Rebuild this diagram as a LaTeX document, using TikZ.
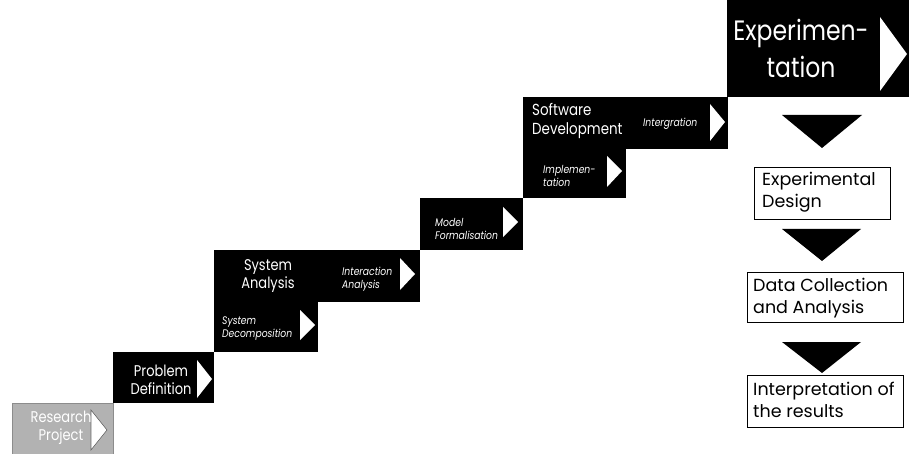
\documentclass[tikz,border=0pt]{standalone}
\usepackage{fontspec}
\setmainfont{Poppins}
\newfontfamily\condfont{Poppins}[FakeStretch=0.84]
\begin{document}
\begin{tikzpicture}[x=1pt,y=-1pt,
  blk/.style={fill=black,draw=none,inner sep=0pt,outer sep=0pt,anchor=north west},
  gry/.style={fill=black!30,draw=black!45,line width=0.6pt,inner sep=0pt,outer sep=0pt,anchor=north west},
  wbox/.style={draw=black,line width=0.6pt,fill=white,inner sep=0pt,outer sep=0pt,anchor=north west},
  lbl/.style={text=white,align=center,inner sep=0pt,font=\condfont\fontsize{15.5}{17.5}\selectfont},
  ilbl/.style={text=white,align=left,inner sep=0pt,anchor=west,font=\condfont\fontsize{11}{13}\selectfont\itshape},
  rlbl/.style={text=black,align=left,inner sep=0pt,anchor=west,font=\fontsize{17.5}{22.5}\selectfont},
  warr/.style={fill=white},
  garr/.style={fill=white,draw=black!60,line width=0.6pt},
  barr/.style={fill=black},
]
\useasboundingbox (0,0) rectangle (909,454);

% staircase blocks
\node[gry,minimum width=101pt,minimum height=51pt] (rp) at (12,403) {};
\node[blk,minimum width=101pt,minimum height=51pt] (pd) at (113,352) {};
\node[blk,minimum width=104pt,minimum height=102pt] (sa) at (214,250) {};
\node[blk,minimum width=102pt,minimum height=52pt] (ia) at (318,250) {};
\node[blk,minimum width=103pt,minimum height=52pt] (mf) at (420,198) {};
\node[blk,minimum width=103pt,minimum height=101pt] (sd) at (523,97) {};
\node[blk,minimum width=102pt,minimum height=52pt] (ig) at (626,97) {};
\node[blk,minimum width=182pt,minimum height=97pt] (ex) at (727,0) {};

% white arrows
\draw[garr] (91,410) -- (107,430) -- (91,450) -- cycle;
\fill[warr] (197,360) -- (212,379) -- (197,398) -- cycle;
\fill[warr] (300,310) -- (315,325) -- (300,340) -- cycle;
\fill[warr] (400,258) -- (415,274) -- (400,290) -- cycle;
\fill[warr] (503,207) -- (518,222) -- (503,237) -- cycle;
\fill[warr] (607,156) -- (622,171) -- (607,187) -- cycle;
\fill[warr] (710,104) -- (725,122) -- (710,141) -- cycle;
\fill[warr] (880,17) -- (907,54) -- (880,91) -- cycle;

% labels
\node[lbl,text=white] (rpt) at (61,428) {Research\\Project};
\node[lbl] (pdt) at (161,380) {Problem\\Definition};
\node[lbl] (sat) at (268,276) {System\\Analysis};
\node[ilbl] (sct) at (222,329) {System\\Decomposition};
\node[ilbl] (iat) at (342,279) {Interaction\\Analysis};
\node[ilbl] (mft) at (435,229) {Model\\Formalisation};
\node[lbl,align=left,anchor=west,font=\condfont\fontsize{16}{18.5}\selectfont] (sdt) at (532,121) {Software\\Development};
\node[ilbl] (igt) at (643,124) {Intergration};
\node[ilbl] (imt) at (543,176) {Implemen-\\tation};
\node[lbl,font=\condfont\fontsize{28}{37}\selectfont] (ext) at (801,48) {Experimen-\\tation};

% right column
\fill[barr] (782,115) -- (862,115) -- (822,148) -- cycle;
\node[wbox,minimum width=136pt,minimum height=52pt] (ed) at (754,167) {};
\fill[barr] (782,229) -- (861,229) -- (822,261) -- cycle;
\node[wbox,minimum width=156pt,minimum height=50pt] (dc) at (747,272) {};
\fill[barr] (782,342) -- (861,342) -- (822,373) -- cycle;
\node[wbox,minimum width=156pt,minimum height=52pt] (ir) at (747,375) {};

\node[rlbl] (edt) at (762,192) {Experimental\\Design};
\node[rlbl] (dct) at (753,298) {Data Collection\\and Analysis};
\node[rlbl] (irt) at (753,400) {Interpretation of\\the results};
\end{tikzpicture}
\end{document}
